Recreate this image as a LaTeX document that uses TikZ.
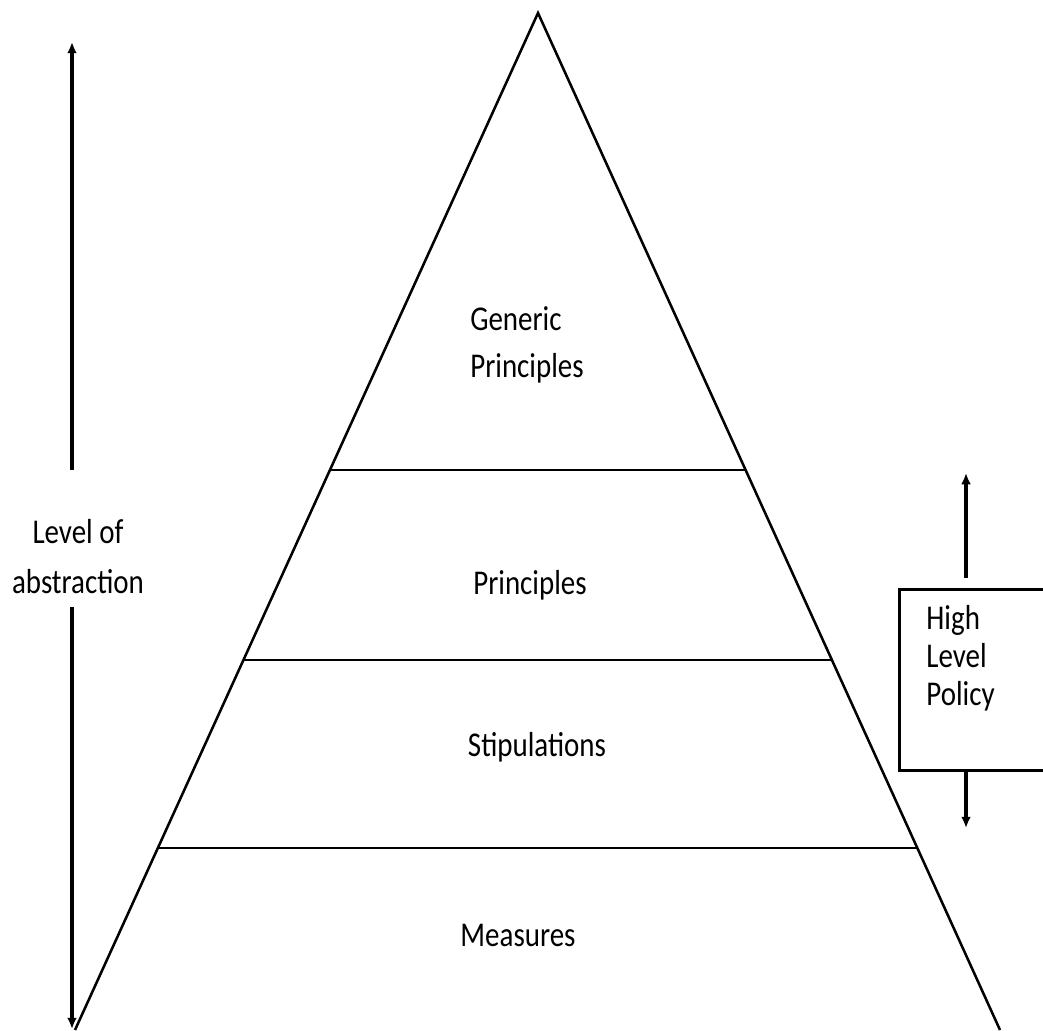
\documentclass[tikz,border=0pt]{standalone}
\usepackage{fontspec}
\setmainfont{Carlito}
\usetikzlibrary{positioning, calc, arrows.meta}
\tikzset{
  >={Latex[length=8pt,width=7pt]}, % filled arrow heads
  layer/.style={line width=1.8pt}, % triangle and its layer lines
  axis/.style={line width=2.2pt, ->}, % the arrows beside the pyramid
  lbl/.style={font=\fontsize{20.6}{27.8}\selectfont, yscale=1.2, inner sep=0pt}, % tall text as in the picture
  policybox/.style={draw, line width=2pt, yscale=1.2, anchor=north west, align=left,
    font=\fontsize{20.6}{22.5}\selectfont, inner xsep=0.675cm, inner ysep=0pt,
    text width=2.95cm, text height=0.83cm, text depth=2.94cm},
}
\begin{document}
\begin{tikzpicture}[x=0.025cm, y=-0.025cm]
    \useasboundingbox (0,0) rectangle (1043,1030);
    \clip (0,0) rectangle (1043,1030);

    % the pyramid
    \coordinate (apex) at (538,13);
    \coordinate (bl) at (75,1030);
    \coordinate (br) at (1000,1030);
    \draw[layer] (bl) -- (apex) -- (br);
    \foreach \t in {0.4494, 0.6362, 0.821}
        \draw[layer] ($(apex)!\t!(bl)$) -- ($(apex)!\t!(br)$);

    \node[lbl, align=left] (generic) at (527,345) {Generic\\Principles};
    \node[lbl] (principles) at (530,585) {Principles};
    \node[lbl] (stipulations) at (537,747) {Stipulations};
    \node[lbl] (measures) at (518,935) {Measures};

    % level of abstraction, left
    \node[lbl, align=center, font=\fontsize{20.6}{29.6}\selectfont] (level) at (78,557) {Level of\\abstraction};
    \coordinate (abs up) at (72,42);
    \coordinate (abs upper) at (72,470);
    \coordinate (abs lower) at (72,607);
    \coordinate (abs down) at (72,1029);
    \draw[axis] (abs upper) -- (abs up);
    \draw[axis] (abs lower) -- (abs down);

    % high level policy, right
    \node[policybox] (policy) at (898,588) {High\\Level\\Policy};
    \coordinate (hi up) at (966,473);
    \coordinate (hi down) at (966,828);
    \draw[axis] ($(policy.north west)+(68,-10)$) -- (hi up);
    \draw[axis] ($(policy.south west)+(68,0)$) -- (hi down);

\end{tikzpicture}
\end{document}
